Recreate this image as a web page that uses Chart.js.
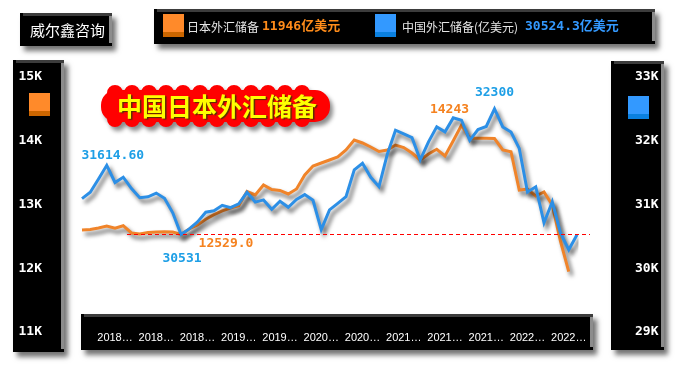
<!DOCTYPE html>
<html>
<head>
<meta charset="utf-8">
<script src="https://cdn.jsdelivr.net/npm/chart.js@4.4.1/dist/chart.umd.min.js"></script>
<style>
  body { margin: 0; background: #fff; }
</style>
</head>
<body>
<canvas id="fx-chart" width="676" height="366"></canvas>
<script>
const months = [
  '2017-10', '2017-11', '2017-12',
  '2018-01', '2018-02', '2018-03', '2018-04', '2018-05', '2018-06', '2018-07', '2018-08', '2018-09', '2018-10', '2018-11', '2018-12',
  '2019-01', '2019-02', '2019-03', '2019-04', '2019-05', '2019-06', '2019-07', '2019-08', '2019-09', '2019-10', '2019-11', '2019-12',
  '2020-01', '2020-02', '2020-03', '2020-04', '2020-05', '2020-06', '2020-07', '2020-08', '2020-09', '2020-10', '2020-11', '2020-12',
  '2021-01', '2021-02', '2021-03', '2021-04', '2021-05', '2021-06', '2021-07', '2021-08', '2021-09', '2021-10', '2021-11', '2021-12',
  '2022-01', '2022-02', '2022-03', '2022-04', '2022-05', '2022-06', '2022-07', '2022-08', '2022-09', '2022-10'
];

// 亿美元
const japanReserve = [
  12600, 12608, 12631, 12663, 12627, 12667, 12553, 12537, 12561, 12569, 12573, 12569, 12529,
  12616, 12680, 12770, 12840, 12900, 12945, 12980, 13204, 13149, 13306, 13235, 13220, 13165,
  13243, 13463, 13604, 13651, 13698, 13745, 13855, 14012, 13965, 13902, 13831, 13855, 13933,
  13894, 13808, 13698, 13792, 13866, 13761, 14000, 14243, 14039, 14039, 14039, 14035, 13855,
  13828, 13227, 13243, 13133, 13196, 12992, 12420, 11946
];

const chinaReserve = [
  31092, 31193, 31399, 31615, 31345, 31428, 31249, 31106, 31121, 31179, 31097, 30870, 30531,
  30617, 30727, 30879, 30902, 30988, 30950, 31010, 31192, 31037, 31072, 30924, 31052, 30956,
  31079, 31155, 31067, 30606, 30915, 31017, 31123, 31544, 31646, 31426, 31280, 31785, 32165,
  32107, 32048, 31701, 31982, 32218, 32140, 32359, 32321, 32006, 32176, 32224, 32502, 32216,
  32138, 31880, 31197, 31278, 30713, 31041, 30549, 30290, 30524.3
];

const seriesNames = ['日本外汇储备', '中国外汇储备(亿美元)'];
const unitText = '亿美元';
const brandText = '威尔鑫咨询';
const titleText = '中国日本外汇储备';

// labelled points: series 0 = japan, 1 = china
const pointLabels = [
  { series: 1, index: 3, text: '31614.60' },
  { series: 1, index: 12, text: '30531' },
  { series: 0, index: 12, text: '12529.0' },
  { series: 0, index: 46, text: '14243' },
  { series: 1, index: 50, text: '32300' }
];
// the red dashed line sits on the 2018 china low
const lowIndex = 12;

const ORANGE = '#F0842A';
const BLUE = '#2C8FE6';
const labelOffsets = [[6, -10], [1, 24], [45, 9], [-12, -16], [0, -16]];
const monoFont = '"DejaVu Sans Mono", "Noto Sans CJK SC"';
const cjkFont = '"Noto Sans CJK SC"';

// black box with a drop shadow and a little bevel
const drawPanel = (ctx, x, y, w, h) => {
  ctx.save();
  ctx.shadowColor = 'rgba(0,0,0,0.55)';
  ctx.shadowBlur = 5;
  ctx.shadowOffsetX = 4;
  ctx.shadowOffsetY = 5;
  ctx.fillStyle = '#000';
  ctx.fillRect(x, y, w, h);
  ctx.restore();
  ctx.fillStyle = '#3c3c3c';
  ctx.fillRect(x + 3, y, w - 3, 3);
  ctx.fillStyle = '#8c8c8c';
  ctx.fillRect(x + w - 3, y + 3, 3, h - 6);
};

const drawSwatch = (ctx, x, y, top, bottom) => {
  ctx.fillStyle = top;
  ctx.fillRect(x, y, 21, 23);
  ctx.fillStyle = bottom;
  ctx.fillRect(x, y + 18, 21, 5);
};

const drawCloud = (ctx, x, y, w, h) => {
  ctx.save();
  ctx.shadowColor = 'rgba(0,0,0,0.45)';
  ctx.shadowBlur = 4;
  ctx.shadowOffsetX = 3;
  ctx.shadowOffsetY = 4;
  ctx.fillStyle = '#ff0000';
  ctx.beginPath();
  ctx.roundRect(x, y + 5, w, h - 10, 15);
  const r = 8;
  for (let cx = x + 14; cx <= x + w - 14; cx += 17) {
    ctx.moveTo(cx + r, y + 8);
    ctx.arc(cx, y + 8, r, 0, Math.PI * 2);
    ctx.moveTo(cx + r, y + h - 8);
    ctx.arc(cx, y + h - 8, r, 0, Math.PI * 2);
  }
  ctx.fill();
  ctx.restore();
};

const decorPlugin = {
  id: 'decor',
  beforeDraw(chart) {
    const ctx = chart.ctx;
    ctx.save();
    drawPanel(ctx, 20, 13, 92, 33);
    drawPanel(ctx, 154, 9, 501, 35);
    drawPanel(ctx, 13, 60, 51, 292);
    drawPanel(ctx, 611, 61, 53, 289);
    drawPanel(ctx, 81, 314, 512, 36);

    ctx.textBaseline = 'middle';
    ctx.textAlign = 'left';
    ctx.fillStyle = '#fff';
    ctx.font = '15px ' + cjkFont;
    ctx.fillText(brandText, 30, 30);

    // legend
    const jpLast = japanReserve[japanReserve.length - 1];
    const cnLast = chinaReserve[chinaReserve.length - 1];
    drawSwatch(ctx, 163, 14, '#FF8A2A', '#CC6600');
    ctx.font = '12px ' + cjkFont;
    ctx.fillStyle = '#e6e6e6';
    ctx.fillText(seriesNames[0], 187, 27);
    ctx.font = 'bold 13px ' + monoFont;
    ctx.fillStyle = '#FF8C1A';
    ctx.fillText(jpLast + unitText, 262, 27);

    drawSwatch(ctx, 375, 14, '#3399FF', '#0A80E0');
    ctx.font = '12px ' + cjkFont;
    ctx.fillStyle = '#e6e6e6';
    ctx.fillText(seriesNames[1], 402, 27);
    ctx.font = 'bold 13px ' + monoFont;
    ctx.fillStyle = '#3399FF';
    ctx.fillText(cnLast + unitText, 525, 27);

    // axis swatches
    drawSwatch(ctx, 29, 93, '#FF8A2A', '#CC6600');
    drawSwatch(ctx, 628, 96, '#3399FF', '#0A80E0');

    // title bubble
    drawCloud(ctx, 101, 85, 229, 42);
    ctx.save();
    ctx.font = 'bold 25px ' + cjkFont;
    ctx.textAlign = 'center';
    ctx.shadowColor = 'rgba(70,50,0,0.9)';
    ctx.shadowBlur = 1;
    ctx.shadowOffsetX = 1.5;
    ctx.shadowOffsetY = 1.5;
    ctx.fillStyle = '#ffff00';
    ctx.fillText(titleText, 217, 106);
    ctx.restore();
    ctx.restore();
  },
  beforeDatasetDraw(chart) {
    const ctx = chart.ctx;
    ctx.save();
    ctx.shadowColor = 'rgba(0,0,0,0.6)';
    ctx.shadowBlur = 4;
    ctx.shadowOffsetX = 3;
    ctx.shadowOffsetY = 4;
  },
  afterDatasetDraw(chart) {
    chart.ctx.restore();
  },
  afterDatasetsDraw(chart) {
    const ctx = chart.ctx;
    const xs = chart.scales.x;
    const area = chart.chartArea;
    ctx.save();

    const lowY = Math.round(chart.scales.yR.getPixelForValue(chinaReserve[lowIndex])) + 0.5;
    ctx.strokeStyle = '#ff0000';
    ctx.lineWidth = 1;
    ctx.setLineDash([4, 3]);
    ctx.beginPath();
    ctx.moveTo(area.left + 45, lowY);
    ctx.lineTo(area.right + 13, lowY);
    ctx.stroke();
    ctx.setLineDash([]);

    ctx.font = 'bold 13px ' + monoFont;
    ctx.textAlign = 'center';
    ctx.textBaseline = 'middle';
    pointLabels.forEach((p, i) => {
      const values = p.series === 0 ? japanReserve : chinaReserve;
      const ys = p.series === 0 ? chart.scales.yL : chart.scales.yR;
      const px = xs.getPixelForValue(p.index);
      const py = ys.getPixelForValue(values[p.index]);
      ctx.fillStyle = p.series === 0 ? '#F5821F' : '#1E9FE6';
      ctx.fillText(p.text, px + labelOffsets[i][0], py + labelOffsets[i][1]);
    });
    ctx.restore();
  }
};

const tickFont = { family: 'DejaVu Sans Mono', size: 13, weight: 'bold' };

// fixed axis width, and drop the tick padding chart.js adds above/below
const fixYAxis = (width) => (scale) => {
  scale.width = width;
  scale.paddingTop = 0;
  scale.paddingBottom = 0;
};

new Chart(document.getElementById('fx-chart'), {
  type: 'line',
  data: {
    labels: months,
    datasets: [
      {
        label: seriesNames[0],
        data: japanReserve,
        yAxisID: 'yL',
        borderColor: ORANGE,
        borderWidth: 3,
        pointRadius: 0,
        tension: 0,
        order: 1
      },
      {
        label: seriesNames[1],
        data: chinaReserve,
        yAxisID: 'yR',
        borderColor: BLUE,
        borderWidth: 3,
        pointRadius: 0,
        tension: 0,
        order: 0
      }
    ]
  },
  options: {
    responsive: false,
    animation: false,
    devicePixelRatio: 1,
    layout: { padding: { left: 0, right: 0, top: 77, bottom: 14 } },
    plugins: {
      legend: { display: false },
      tooltip: { enabled: false }
    },
    scales: {
      x: {
        grid: { display: false },
        border: { display: false },
        afterBuildTicks: (scale) => {
          scale.ticks = scale.ticks.filter(t => t.value % 5 === 4);
        },
        afterFit: (scale) => { scale.height = 20; },
        ticks: {
          autoSkip: false,
          maxRotation: 0,
          padding: -9,
          color: '#fff',
          font: { family: 'Liberation Sans', size: 11 },
          callback: function (value) {
            return this.getLabelForValue(value).slice(0, 4) + '…';
          }
        }
      },
      yL: {
        position: 'left',
        min: 11000,
        max: 15000,
        grid: { display: false },
        border: { display: false },
        afterFit: fixYAxis(82),
        ticks: {
          stepSize: 1000,
          padding: 32,
          color: '#fff',
          font: tickFont,
          callback: v => (v / 1000) + 'K'
        }
      },
      yR: {
        position: 'right',
        min: 29000,
        max: 33000,
        grid: { display: false },
        border: { display: false },
        afterFit: fixYAxis(99),
        ticks: {
          stepSize: 1000,
          padding: 50,
          color: '#fff',
          font: tickFont,
          callback: v => (v / 1000) + 'K'
        }
      }
    }
  },
  plugins: [decorPlugin]
});
</script>
</body>
</html>
